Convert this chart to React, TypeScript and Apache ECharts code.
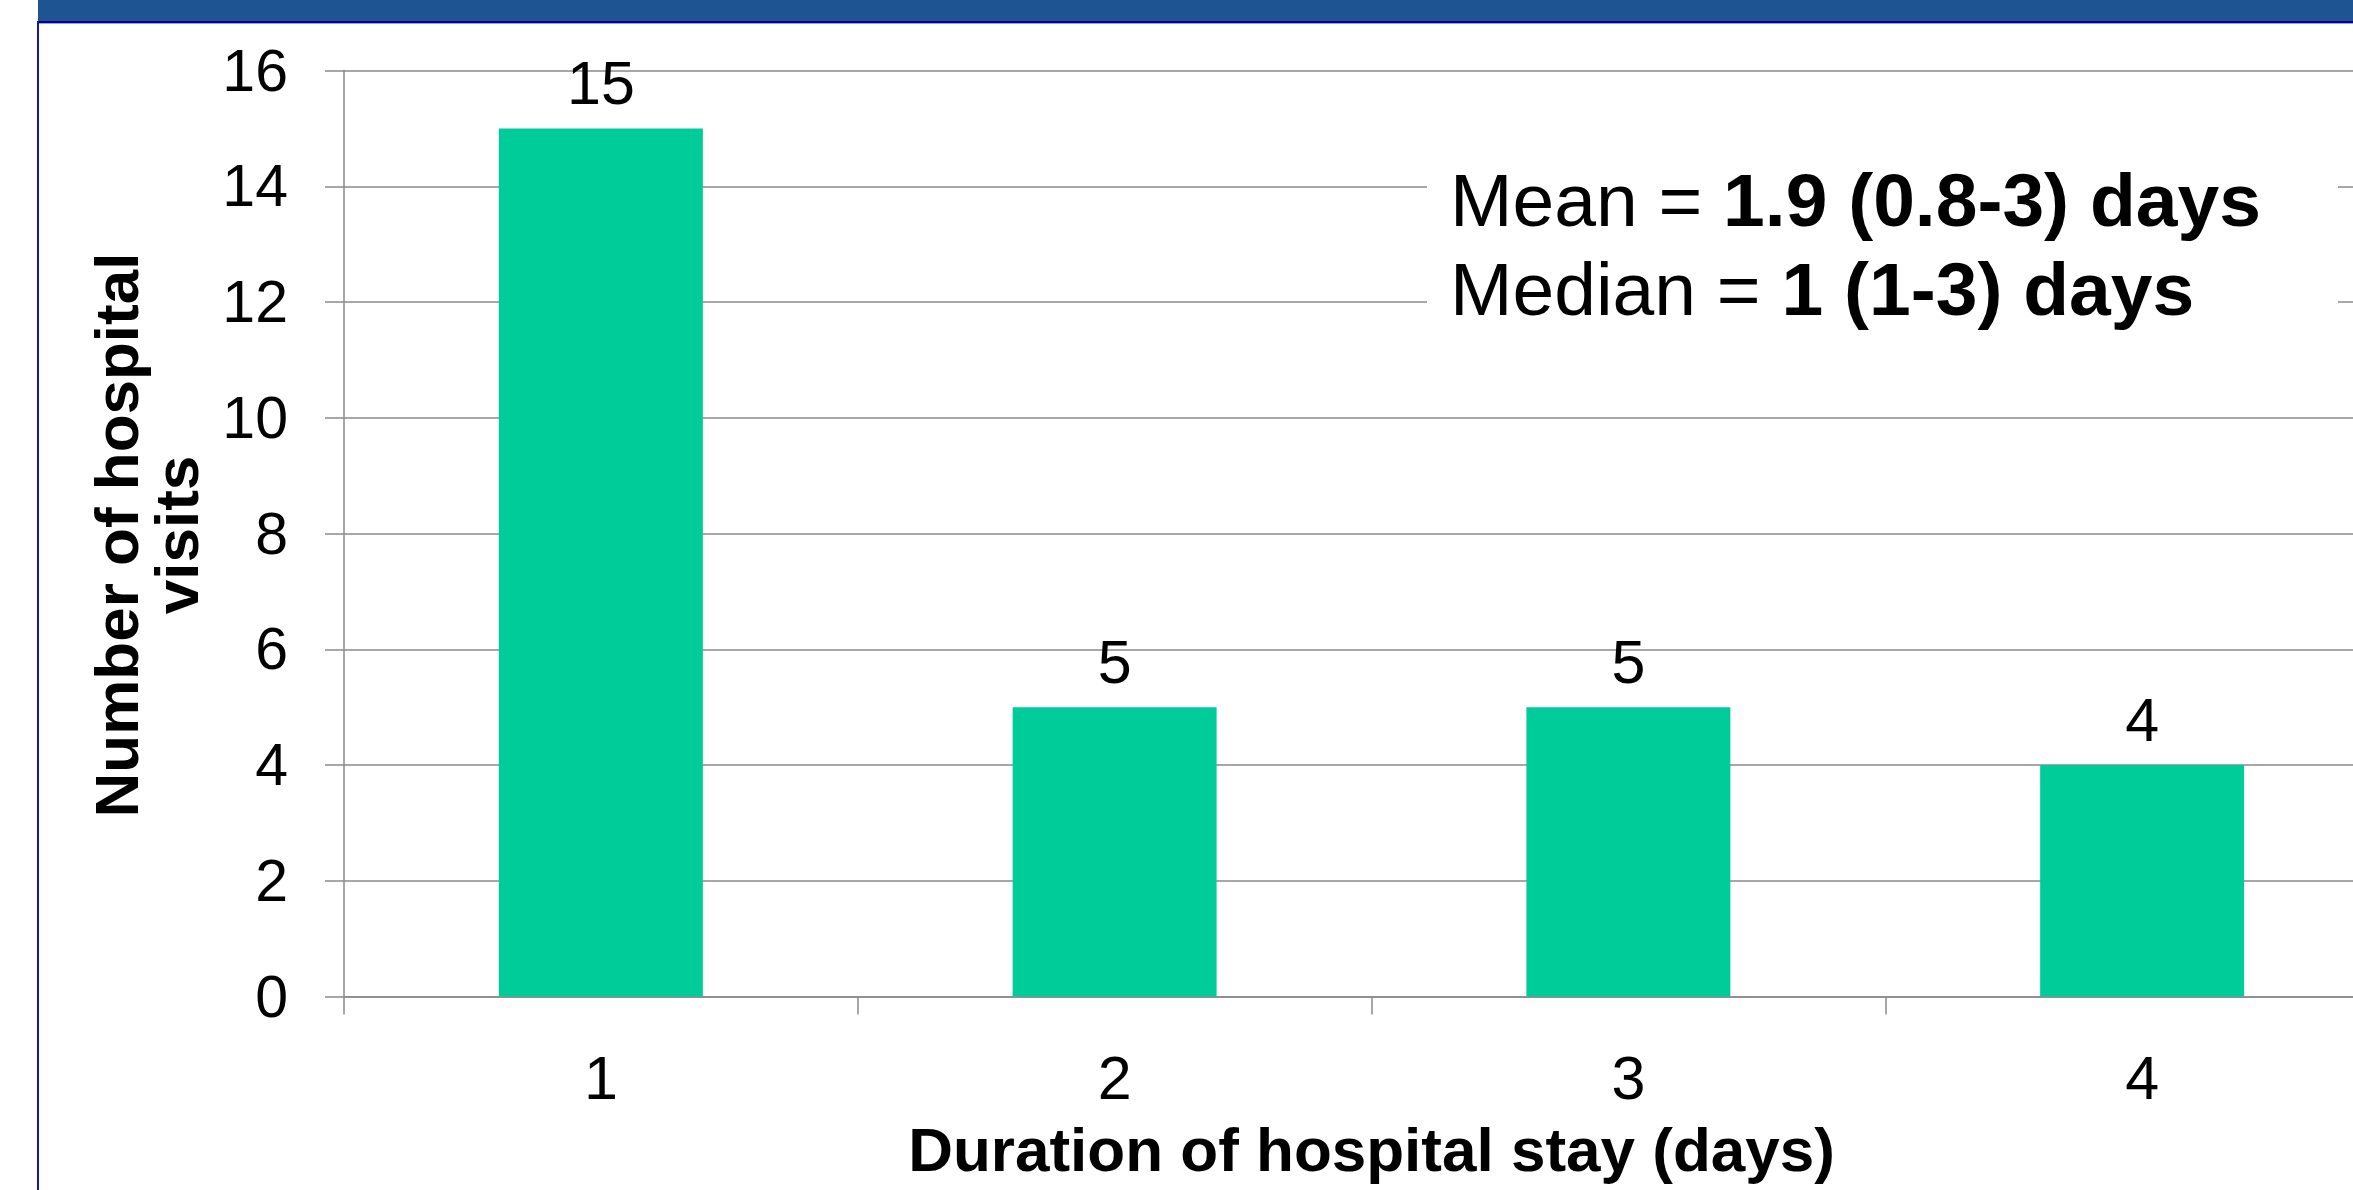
import React, { useEffect, useRef } from "react";
import * as echarts from "echarts";

const categories = ["1", "2", "3", "4"];
const visits = [15, 5, 5, 4];
const yTicks = { min: 0, max: 16, interval: 2 };
const xTitle = "Duration of hospital stay (days)";
const yTitle = "Number of hospital\nvisits";
const meanLabel = "Mean = ";
const meanValue = "1.9 (0.8-3) days";
const medianLabel = "Median = ";
const medianValue = "1 (1-3) days";

const FONT = 'Arial, "Liberation Sans", Helvetica, sans-serif';
const GRID_GRAY = "#8a8a8a";

export default function App() {
  const ref = useRef<HTMLDivElement>(null);

  useEffect(() => {
    if (!ref.current) return;
    const chart = echarts.init(ref.current, null, { renderer: "svg" });
    const option: any = {
      animation: false,
      backgroundColor: "#ffffff",
      grid: {
        left: 344,
        top: 70.5,
        width: 2055,
        height: 926,
        containLabel: false,
        outerBoundsMode: "none",
      },
      xAxis: {
        type: "category",
        data: categories,
        boundaryGap: true,
        axisLine: { show: true, lineStyle: { color: GRID_GRAY, width: 1.5 } },
        axisTick: { show: true, alignWithLabel: false, length: 18, lineStyle: { color: GRID_GRAY, width: 1.5 } },
        axisLabel: { fontSize: 61, color: "#000", fontFamily: FONT, margin: 51 },
        splitLine: { show: false },
        name: xTitle,
        nameLocation: "middle",
        nameGap: 122,
        nameTextStyle: { fontSize: 62, fontWeight: "bold", color: "#000", fontFamily: FONT },
      },
      yAxis: {
        type: "value",
        min: yTicks.min,
        max: yTicks.max,
        interval: yTicks.interval,
        axisLine: { show: true, lineStyle: { color: GRID_GRAY, width: 1.5 } },
        axisTick: { show: true, length: 19, lineStyle: { color: GRID_GRAY, width: 1.5 } },
        axisLabel: { fontSize: 59, color: "#000", fontFamily: FONT, margin: 56 },
        splitLine: { show: true, lineStyle: { color: GRID_GRAY, width: 1.5 } },
      },
      series: [
        {
          type: "bar",
          data: visits,
          barCategoryGap: "60.3%",
          itemStyle: { color: "#00CC99" },
          label: {
            show: true,
            position: "top",
            distance: 15,
            fontSize: 61,
            color: "#000",
            fontFamily: FONT,
          },
        },
      ],
      graphic: [
        // top banner
        { type: "rect", z: 100, shape: { x: 38, y: 0, width: 2315, height: 21 }, style: { fill: "#1F5493" } },
        { type: "rect", z: 100, shape: { x: 38, y: 21, width: 2315, height: 2 }, style: { fill: "#000090" } },
        { type: "rect", z: 100, shape: { x: 38, y: 23, width: 2315, height: 1 }, style: { fill: "#a0a0e0" } },
        // left frame line
        { type: "rect", z: 100, shape: { x: 37, y: 21, width: 2, height: 1169 }, style: { fill: "#1414b4" } },
        // y-axis title
        {
          type: "text",
          z: 100,
          x: 146,
          y: 535,
          rotation: Math.PI / 2,
          style: {
            text: yTitle,
            fontSize: 62,
            fontWeight: "bold",
            fontFamily: FONT,
            fill: "#000",
            align: "center",
            verticalAlign: "middle",
            lineHeight: 60,
          },
        },
        // annotation box
        { type: "rect", z: 100, shape: { x: 1427, y: 140, width: 911, height: 220 }, style: { fill: "#ffffff" } },
        {
          type: "text",
          z: 101,
          x: 1450,
          y: 244,
          style: {
            text: `{r|${meanLabel}}{b|${meanValue}}\n{r|${medianLabel}}{b|${medianValue}}`,
            fontSize: 75,
            fontFamily: FONT,
            fill: "#000",
            align: "left",
            verticalAlign: "middle",
            lineHeight: 89,
            rich: {
              r: { fontSize: 75, fontFamily: FONT, fill: "#000", lineHeight: 89 },
              b: { fontSize: 75, fontFamily: FONT, fontWeight: "bold", fill: "#000", lineHeight: 89 },
            },
          },
        },
      ],
    };
    chart.setOption(option);
    return () => chart.dispose();
  }, []);

  return (
    <div
      ref={ref}
      style={{ position: "absolute", left: 0, top: 0, width: 2353, height: 1190, overflow: "hidden" }}
    />
  );
}
